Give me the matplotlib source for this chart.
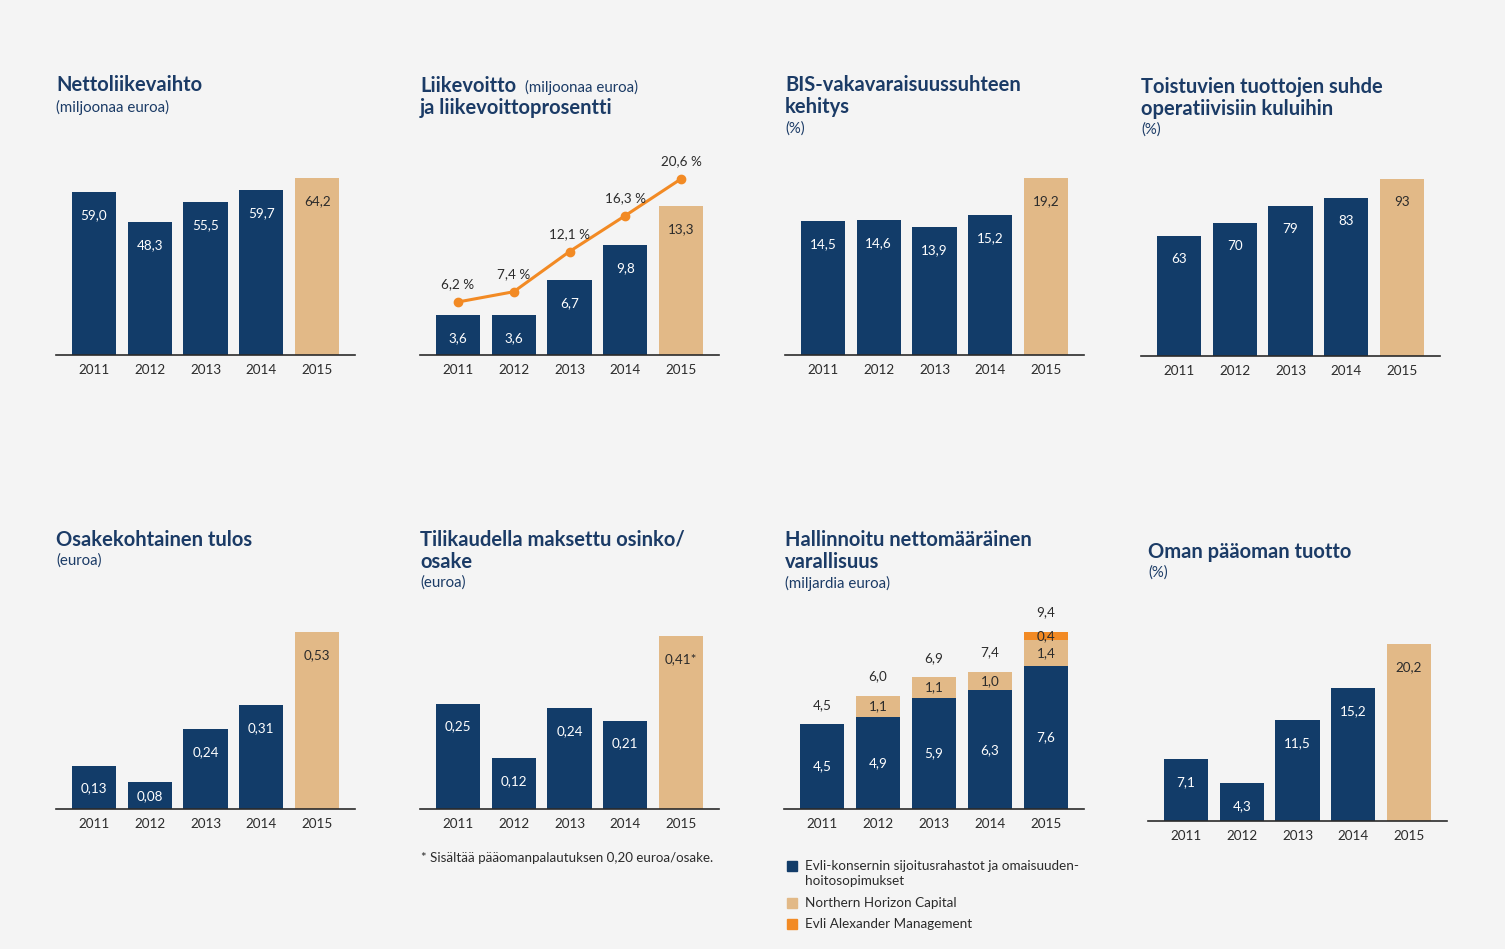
import matplotlib
matplotlib.use("Agg")
import matplotlib.pyplot as plt
from matplotlib.patches import Rectangle

# ---------------- data ----------------
years = ["2011", "2012", "2013", "2014", "2015"]
nettoliikevaihto = [59.0, 48.3, 55.5, 59.7, 64.2]
liikevoitto = [3.6, 3.6, 6.7, 9.8, 13.3]
liikevoittoprosentti = [6.2, 7.4, 12.1, 16.3, 20.6]
bis = [14.5, 14.6, 13.9, 15.2, 19.2]
toistuvien = [63, 70, 79, 83, 93]
osakekohtainen = [0.13, 0.08, 0.24, 0.31, 0.53]
osinko = [0.25, 0.12, 0.24, 0.21, 0.41]
osinko_labels = ["0,25", "0,12", "0,24", "0,21", "0,41*"]
varallisuus_evli = [4.5, 4.9, 5.9, 6.3, 7.6]
varallisuus_nhc = [0.0, 1.1, 1.1, 1.0, 1.4]
varallisuus_eam = [0.0, 0.0, 0.0, 0.0, 0.4]
varallisuus_total = [4.5, 6.0, 6.9, 7.4, 9.4]
oman_paaoman = [7.1, 4.3, 11.5, 15.2, 20.2]

legend_labels = ["Evli-konsernin sijoitusrahastot ja omaisuuden-\nhoitosopimukset",
                 "Northern Horizon Capital",
                 "Evli Alexander Management"]

# ---------------- style ----------------
W, H = 1505, 949
BG = "#f4f4f4"
NAVY = "#123c69"
TAN = "#e2b987"
ORANGE = "#f28a24"
TITLE = "#1b3b66"
DARK = "#2b2b2b"
FONT = ["Lato", "DejaVu Sans"]

plt.rcParams["font.family"] = FONT
fig = plt.figure(figsize=(W / 100, H / 100), dpi=100, facecolor=BG)

BAR_H = 177.0  # px for the tallest bar
AX_W = 299.0


def fx(x):
    return x / W


def fy(y):
    return 1 - y / H


def make_ax(xl, base, ymax, xw=AX_W, h=BAR_H):
    ax = fig.add_axes([fx(xl), fy(base), xw / W, h / H])
    ax.set_facecolor("none")
    ax.set_xlim(-0.68, 4.68)
    ax.set_ylim(0, ymax)
    for s in ["top", "left", "right"]:
        ax.spines[s].set_visible(False)
    ax.spines["bottom"].set_color(DARK)
    ax.spines["bottom"].set_linewidth(1.2)
    ax.set_yticks([])
    ax.set_xticks(range(len(years)))
    ax.set_xticklabels(years, fontsize=9.7, color=DARK)
    ax.tick_params(axis="x", length=0, pad=6.5)
    return ax


def colors():
    return [NAVY] * 4 + [TAN]


def fmt(v, d=1):
    return f"{v:.{d}f}".replace(".", ",")


def bar_panel(ax, vals, labels, ymax):
    xs = range(len(vals))
    ax.bar(xs, vals, width=0.79, color=colors())
    dpu = BAR_H / ymax
    for i, (v, lab) in enumerate(zip(vals, labels)):
        y = max(v - 23 / dpu, 13 / dpu)
        c = "white" if i < 4 else DARK
        ax.text(i, y, lab, ha="center", va="center", fontsize=9.7, color=c)


def title(x, y, lines, sub=None, sub_y=None):
    for i, ln in enumerate(lines):
        fig.text(fx(x), fy(y + 22 * i), ln, fontsize=14.5, fontweight="bold",
                 color=TITLE, va="center", ha="left")
    if sub is not None:
        fig.text(fx(x), fy(sub_y), sub, fontsize=10.8, color=TITLE,
                 va="center", ha="left")


# ---- Panel 1
ax1 = make_ax(56, 355, max(nettoliikevaihto))
bar_panel(ax1, nettoliikevaihto, [fmt(v) for v in nettoliikevaihto], max(nettoliikevaihto))
title(56, 85, ["Nettoliikevaihto"], "(miljoonaa euroa)", 107)

# ---- Panel 2
ymax2 = 15.8
ax2 = make_ax(420, 355, ymax2)
bar_panel(ax2, liikevoitto, [fmt(v) for v in liikevoitto], ymax2)
ax2b = ax2.twinx()
ax2b.set_ylim(0, 20.7)
ax2b.axis("off")
ax2b.plot(range(5), liikevoittoprosentti, color=ORANGE, lw=2.2, marker="o",
          markersize=6, clip_on=False)
for i, v in enumerate(liikevoittoprosentti):
    ax2b.annotate(fmt(v) + " %", (i, v), xytext=(0, 12.5), textcoords="offset points",
                  ha="center", va="center", fontsize=9.7, color=DARK)
fig.text(fx(420), fy(86), "Liikevoitto", fontsize=14.5, fontweight="bold",
         color=TITLE, va="center")
fig.text(fx(525), fy(87), "(miljoonaa euroa)", fontsize=10.8, color=TITLE, va="center")
fig.text(fx(420), fy(108), "ja liikevoittoprosentti", fontsize=14.5, fontweight="bold",
         color=TITLE, va="center")

# ---- Panel 3
ax3 = make_ax(785, 355, max(bis))
bar_panel(ax3, bis, [fmt(v) for v in bis], max(bis))
title(785, 85, ["BIS-vakavaraisuussuhteen", "kehitys"], "(%)", 129)

# ---- Panel 4
ax4 = make_ax(1141, 356, max(toistuvien))
bar_panel(ax4, toistuvien, [str(v) for v in toistuvien], max(toistuvien))
title(1141, 87, ["Toistuvien tuottojen suhde", "operatiivisiin kuluihin"], "(%)", 130)

# ---- Panel 5
ax5 = make_ax(56, 809, max(osakekohtainen))
bar_panel(ax5, osakekohtainen, [fmt(v, 2) for v in osakekohtainen], max(osakekohtainen))
title(56, 540, ["Osakekohtainen tulos"], "(euroa)", 561)

# ---- Panel 6
ymax6 = 0.42
ax6 = make_ax(420, 809, ymax6)
bar_panel(ax6, osinko, osinko_labels, ymax6)
title(420, 540, ["Tilikaudella maksettu osinko/", "osake"], "(euroa)", 583)
fig.text(fx(421), fy(858), "* Sisältää pääomanpalautuksen 0,20 euroa/osake.",
         fontsize=9.6, color=DARK, va="center")

# ---- Panel 7 (stacked)
ymax7 = max(varallisuus_total)
ax7 = make_ax(784, 809, ymax7, xw=300)
xs = list(range(5))
ax7.bar(xs, varallisuus_evli, width=0.79, color=NAVY)
bottom2 = varallisuus_evli
ax7.bar(xs, varallisuus_nhc, width=0.79, bottom=bottom2, color=TAN)
bottom3 = [a + b for a, b in zip(varallisuus_evli, varallisuus_nhc)]
ax7.bar(xs, varallisuus_eam, width=0.79, bottom=bottom3, color=ORANGE)
dpu7 = BAR_H / ymax7
for i in xs:
    ax7.text(i, varallisuus_evli[i] / 2, fmt(varallisuus_evli[i]), ha="center",
             va="center", fontsize=9.7, color="white")
    if varallisuus_nhc[i] > 0:
        ax7.text(i, bottom2[i] + varallisuus_nhc[i] / 2, fmt(varallisuus_nhc[i]),
                 ha="center", va="center", fontsize=9.7, color=DARK)
    if varallisuus_eam[i] > 0:
        ax7.text(i, bottom3[i] + varallisuus_eam[i] / 2, fmt(varallisuus_eam[i]),
                 ha="center", va="center", fontsize=9.7, color=DARK)
    top = bottom3[i] + varallisuus_eam[i]
    ax7.text(i, top + 19.5 / dpu7, fmt(varallisuus_total[i]), ha="center",
             va="center", fontsize=9.7, color=DARK, clip_on=False)
title(785, 540, ["Hallinnoitu nettomääräinen", "varallisuus"], "(miljardia euroa)", 583)

# legend
leg_colors = [NAVY, TAN, ORANGE]
leg_y = [866, 903, 924]
for c, lab, y in zip(leg_colors, legend_labels, leg_y):
    fig.add_artist(Rectangle((fx(787), fy(y + 5)), 10 / W, 10 / H,
                             transform=fig.transFigure, color=c))
    lines = lab.split("\n")
    for k, ln in enumerate(lines):
        fig.text(fx(805), fy(y + 15 * k), ln, fontsize=9.7, color=DARK, va="center")

# ---- Panel 8
ax8 = make_ax(1148, 821, max(oman_paaoman))
bar_panel(ax8, oman_paaoman, [fmt(v) for v in oman_paaoman], max(oman_paaoman))
title(1148, 552, ["Oman pääoman tuotto"], "(%)", 573)

fig.savefig("out.png", dpi=100, facecolor=BG)
